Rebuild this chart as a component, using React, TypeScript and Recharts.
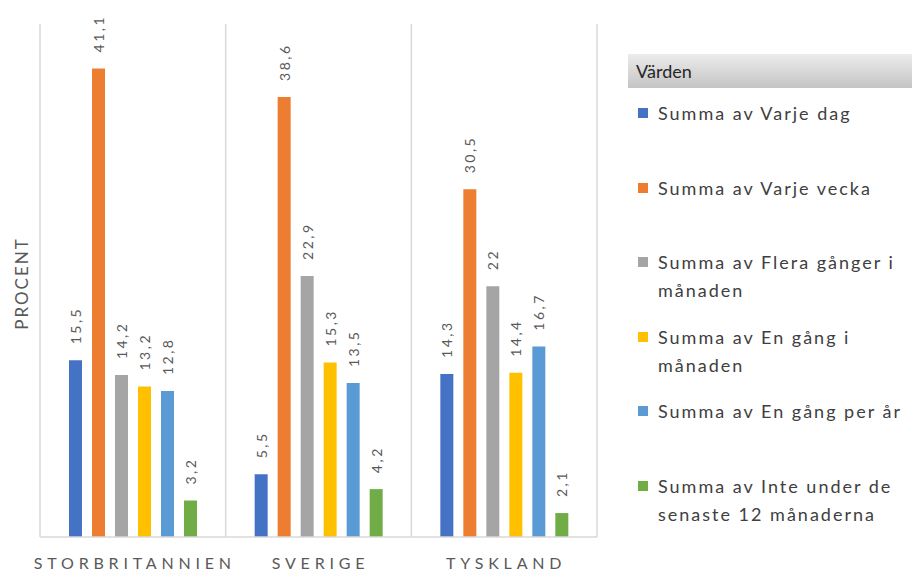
import { BarChart, Bar, XAxis, YAxis, CartesianGrid, LabelList, Label } from "recharts"

const countries = ["STORBRITANNIEN", "SVERIGE", "TYSKLAND"]
const varjeDag = [15.5, 5.5, 14.3]
const varjeVecka = [41.1, 38.6, 30.5]
const fleraGanger = [14.2, 22.9, 22]
const enGangManad = [13.2, 15.3, 14.4]
const enGangAr = [12.8, 13.5, 16.7]
const inteUnder = [3.2, 4.2, 2.1]

const seriesValues = [varjeDag, varjeVecka, fleraGanger, enGangManad, enGangAr, inteUnder]
const seriesNames = [
  "Summa av Varje dag",
  "Summa av Varje vecka",
  "Summa av Flera gånger i månaden",
  "Summa av En gång i månaden",
  "Summa av En gång per år",
  "Summa av Inte under de senaste 12 månaderna",
]
const seriesColors = ["#4472C4", "#ED7D31", "#A5A5A5", "#FFC000", "#5B9BD5", "#70AD47"]

const data = countries.map((name, i) => {
  const row: Record<string, string | number> = { name }
  seriesValues.forEach((vals, s) => {
    row[`s${s}`] = vals[i]
  })
  return row
})

const font = "Lato, 'Open Sans', sans-serif"
const textGray = "#595959"

const CountryTick = (props: any) => {
  const { x, y, payload } = props
  return (
    <text x={x + 2} y={y + 24} textAnchor="middle" fill={textGray} fontSize={16} letterSpacing={4.8} fontFamily={font}>
      {payload.value}
    </text>
  )
}

const ValueLabel = (props: any) => {
  const { x, y, width, value } = props
  const cx = Number(x) + Number(width) / 2
  const ty = Number(y) - 16
  return (
    <text
      x={cx}
      y={ty}
      transform={`rotate(-90 ${cx} ${ty})`}
      textAnchor="start"
      dominantBaseline="central"
      fontSize={14}
      letterSpacing={2.5}
      fill={textGray}
      fontFamily={font}
    >
      {String(value).replace(".", ",")}
    </text>
  )
}

export default function App() {
  return (
    <div style={{ position: "absolute", left: 0, top: 0, width: 912, height: 573, background: "#fff", fontFamily: font }}>
      <BarChart
        width={912}
        height={573}
        data={data}
        margin={{ top: 24, right: 315, left: 0, bottom: 0 }}
        barSize={13}
        barGap={10}
      >
        <CartesianGrid
          horizontal={false}
          stroke="#d9d9d9"
          strokeWidth={1.5}
          verticalCoordinatesGenerator={({ offset }: any) =>
            [0, 1, 2, 3].map((i) => offset.left + (i * offset.width) / 3)
          }
        />
        <XAxis
          dataKey="name"
          height={36}
          tickLine={false}
          axisLine={{ stroke: "#d9d9d9", strokeWidth: 1.5 }}
          tick={<CountryTick />}
          interval={0}
        />
        <YAxis width={40} domain={[0, 45]} tick={false} tickLine={false} axisLine={false}>
          <Label
            value="PROCENT"
            angle={-90}
            position="center"
            dx={2}
            dy={3}
            fill={textGray}
            fontSize={17}
            letterSpacing={2}
            fontFamily={font}
          />
        </YAxis>
        {seriesNames.map((n, s) => (
          <Bar key={n} dataKey={`s${s}`} name={n} fill={seriesColors[s]} isAnimationActive={false}>
            <LabelList dataKey={`s${s}`} content={<ValueLabel />} />
          </Bar>
        ))}
      </BarChart>

      <div style={{ position: "absolute", left: 628, top: 54, width: 284 }}>
        <div
          style={{
            height: 34,
            lineHeight: "34px",
            paddingLeft: 8,
            fontSize: 18,
            color: "#262626",
            background: "linear-gradient(#ececec, #c4c4c4)",
          }}
        >
          Värden
        </div>
        {seriesNames.map((n, s) => (
          <div key={n} style={{ position: "absolute", left: 10, top: 45 + s * 74.5, display: "flex" }}>
            <div style={{ width: 10, height: 10, marginTop: 9, background: seriesColors[s], flex: "none" }} />
            <div
              style={{ marginLeft: 10, width: 250, fontSize: 18, letterSpacing: 2, lineHeight: "28px", color: "#404040" }}
            >
              {n}
            </div>
          </div>
        ))}
      </div>
    </div>
  )
}
